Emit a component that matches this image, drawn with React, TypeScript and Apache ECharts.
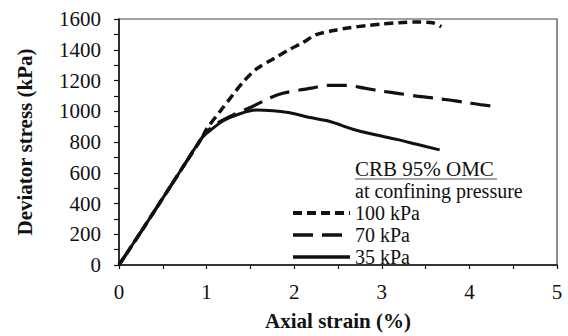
import React, { useEffect, useRef } from "react";
import * as echarts from "echarts";

const xTicks = [0, 1, 2, 3, 4, 5];
const yTicks = [0, 200, 400, 600, 800, 1000, 1200, 1400, 1600];

const seriesNames = ["100 kPa", "70 kPa", "35 kPa"];

const strain100 = [0, 0.25, 0.5, 0.75, 0.95, 1.0, 1.17, 1.3, 1.42, 1.57, 1.76, 1.95, 2.1, 2.25, 2.45, 2.63, 2.82, 3.01, 3.2, 3.39, 3.58, 3.68];
const stress100 = [0, 215, 435, 655, 830, 884, 1011, 1107, 1192, 1276, 1340, 1403, 1447, 1498, 1525, 1543, 1557, 1568, 1576, 1581, 1575, 1549];

const strain70 = [0, 0.25, 0.5, 0.75, 0.95, 1.08, 1.3, 1.53, 1.72, 1.87, 2.06, 2.2, 2.37, 2.6, 2.8, 3.01, 3.2, 3.4, 3.6, 3.77, 3.95, 4.15, 4.33];
const stress70 = [0, 215, 435, 655, 830, 906, 975, 1033, 1086, 1117, 1138, 1150, 1168, 1168, 1150, 1130, 1115, 1098, 1085, 1073, 1058, 1041, 1029];

const strain35 = [0, 0.25, 0.5, 0.75, 0.95, 1.04, 1.19, 1.38, 1.57, 1.76, 1.95, 2.18, 2.4, 2.67, 2.9, 3.17, 3.4, 3.66];
const stress35 = [0, 215, 435, 655, 830, 874, 938, 984, 1008, 1003, 990, 959, 935, 883, 850, 817, 785, 749];

const FONT = "Liberation Serif";
const INK = "#111";

const zip = (xs: number[], ys: number[]) => xs.map((x, i) => [x, ys[i]]);

export default function App() {
  const ref = useRef<HTMLDivElement>(null);
  useEffect(() => {
    document.body.style.margin = "0";
    if (!ref.current) return;
    const chart = echarts.init(ref.current, undefined, { renderer: "svg" });
    const dashes: (number[] | null)[] = [[9, 5], [20, 9], null];
    const widths = [3.5, 3.2, 3];
    const datas = [zip(strain100, stress100), zip(strain70, stress70), zip(strain35, stress35)];
    const legendRowsY = [213, 235, 257];
    const legendGraphics: any[] = [];
    seriesNames.forEach((name, i) => {
      legendGraphics.push({
        type: "line",
        shape: { x1: 293, y1: legendRowsY[i], x2: 350, y2: legendRowsY[i] },
        style: { stroke: INK, lineWidth: widths[i] + 0.5, lineDash: dashes[i] || undefined },
      });
      legendGraphics.push({
        type: "text",
        x: 355,
        y: legendRowsY[i],
        style: { text: name, fontFamily: FONT, fontSize: 20, lineHeight: 20, fill: INK, verticalAlign: "middle", align: "left" },
      });
    });
    chart.setOption({
      animation: false,
      textStyle: { fontFamily: FONT },
      grid: { left: 119, right: 11, top: 19, bottom: 65, show: true, borderColor: "#444", borderWidth: 1.2, backgroundColor: "transparent" },
      xAxis: {
        type: "value",
        min: 0,
        max: 5,
        interval: 0.5,
        name: "Axial strain (%)",
        nameLocation: "middle",
        nameGap: 45,
        nameTextStyle: { fontFamily: FONT, fontSize: 21, fontWeight: "bold", color: INK },
        axisLine: { show: true, onZero: false, lineStyle: { color: INK, width: 1.5 } },
        axisTick: { show: true, inside: false, length: 4, lineStyle: { color: INK, width: 1.2 } },
        splitLine: { show: false },
        axisLabel: {
          margin: 16,
          fontFamily: FONT,
          fontSize: 21,
          color: INK,
          formatter: (v: number) => (xTicks.includes(v) ? String(v) : ""),
        },
      },
      yAxis: {
        type: "value",
        min: 0,
        max: 1600,
        interval: 100,
        name: "Deviator stress (kPa)",
        nameLocation: "middle",
        nameGap: 84,
        nameTextStyle: { fontFamily: FONT, fontSize: 21, fontWeight: "bold", color: INK },
        axisLine: { show: true, onZero: false, lineStyle: { color: INK, width: 1.5 } },
        axisTick: { show: true, inside: false, length: 5, lineStyle: { color: INK, width: 1.2 } },
        splitLine: { show: false },
        axisLabel: {
          margin: 18,
          fontFamily: FONT,
          fontSize: 21,
          color: INK,
          formatter: (v: number) => (yTicks.includes(v) ? String(v) : ""),
        },
      },
      graphic: [
        {
          type: "text",
          x: 355,
          y: 169,
          style: { text: "CRB 95% OMC", fontFamily: FONT, fontSize: 21, lineHeight: 20, fill: INK, verticalAlign: "middle" },
        },
        {
          type: "line",
          shape: { x1: 355, y1: 179, x2: 497, y2: 179 },
          style: { stroke: "#888", lineWidth: 1.5 },
        },
        {
          type: "text",
          x: 355,
          y: 191,
          style: { text: "at confining pressure", fontFamily: FONT, fontSize: 20, lineHeight: 20, fill: INK, verticalAlign: "middle" },
        },
        ...legendGraphics,
      ],
      series: seriesNames.map((name, i) => ({
        name,
        type: "line",
        data: datas[i],
        smooth: 0.3,
        symbol: "none",
        lineStyle: { color: INK, width: widths[i], type: dashes[i] ? dashes[i] : "solid", cap: "butt" },
        itemStyle: { color: INK },
      })),
    });
    return () => chart.dispose();
  }, []);
  return <div ref={ref} style={{ width: 568, height: 336 }} />;
}
